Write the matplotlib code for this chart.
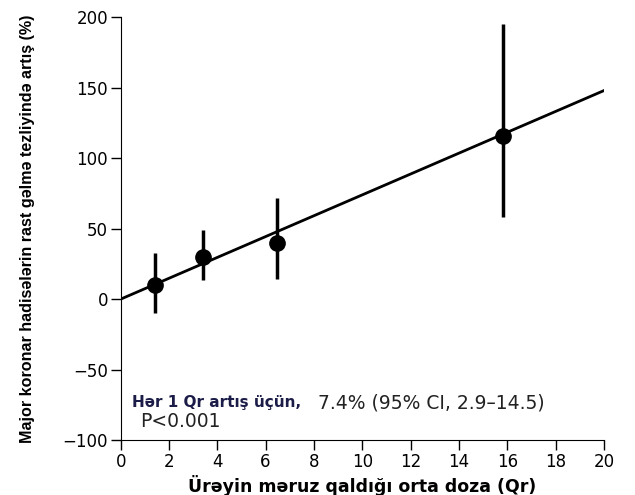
import matplotlib.pyplot as plt
import numpy as np

# data
dose = [1.42, 3.41, 6.49, 15.83]
risk = [10, 30, 40, 115.5]
ci_lo = [-9.5, 13.5, 14, 58.5]
ci_hi = [33, 49, 72, 195]
slope = 7.4  # % per Qr
xticks = list(range(0, 21, 2))
yticks = list(range(-100, 201, 50))

fig = plt.figure(figsize=(6.35, 4.95), dpi=100)
ax = fig.add_axes([0.19, 0.111, 0.761, 0.854])

xs = np.array([0, 20])
ax.plot(xs, slope * xs, color='black', lw=2, zorder=2)

yerr = [np.array(risk) - np.array(ci_lo), np.array(ci_hi) - np.array(risk)]
ax.errorbar(dose, risk, yerr=yerr, fmt='o', color='black', ms=11,
            elinewidth=2.5, capsize=0, zorder=3)

ax.set_xlim(0, 20)
ax.set_ylim(-100, 200)
ax.set_xticks(xticks)
ax.set_yticks(yticks)
ax.set_yticklabels(['\u2212100', '\u221250', '0', '50', '100', '150', '200'])
ax.tick_params(labelsize=12, length=7, width=1, pad=2)
ax.spines['top'].set_visible(False)
ax.spines['right'].set_visible(False)

ax.set_xlabel('Ürəyin məruz qaldığı orta doza (Qr)', fontsize=12.5,
              fontweight='bold', labelpad=3)
ax.set_ylabel('Major koronar hadisələrin rast gəlmə tezliyində artış (%)',
              fontsize=11.6, fontweight='bold', family='Liberation Sans',
              labelpad=20)

ax.text(0.45, -73.5, 'Hər 1 Qr artış üçün,', fontsize=11, fontweight='bold',
        color='#1c1c48', va='center')
ax.text(8.15, -73.5, '7.4% (95% CI, 2.9\u201314.5)', fontsize=13.5,
        color='#222222', va='center')
ax.text(0.8, -87, 'P<0.001', fontsize=13.5, color='#222222', va='center')

fig.savefig('out.png', dpi=100)
